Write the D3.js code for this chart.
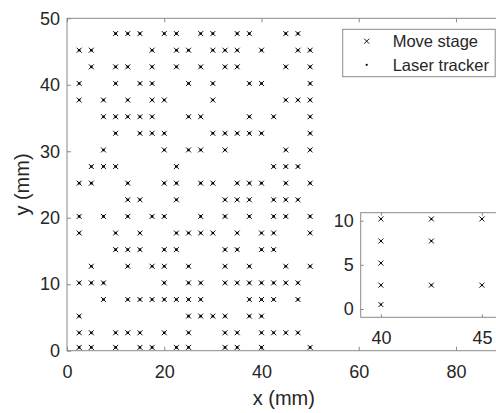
<!DOCTYPE html>
<html><head><meta charset="utf-8">
<script src="https://cdn.jsdelivr.net/npm/d3@7"></script>
<style>
body{margin:0;background:#fff}
svg{display:block}
text{font-family:"Liberation Sans",Arial,Helvetica,sans-serif;fill:#262626}
</style>
</head><body>
<svg id="c" width="496" height="413"></svg>
<script>
// ---- data (mm) ----
// y level of each measured row
const rowY = [47.7, 45.2, 42.7, 40.2, 37.7, 35.2, 32.7, 30.2, 27.7, 25.2,
              22.7, 20.2, 17.7, 15.2, 12.7, 10.2, 7.7, 5.2, 2.7, 0.5];
// x positions present in each row (same order as rowY)
const rowX = [
  [10, 12.5, 15, 20, 22.5, 27.5, 30, 35, 37.5, 45, 47.5],
  [2.5, 5, 17.5, 22.5, 25, 30, 32.5, 35, 40, 47.5, 50],
  [5, 10, 12.5, 17.5, 22.5, 27.5, 32.5, 35, 45, 50],
  [2.5, 10, 15, 17.5, 25, 30, 37.5, 40, 50],
  [2.5, 7.5, 12.5, 17.5, 20, 30, 45, 47.5, 50],
  [7.5, 10, 12.5, 15, 17.5, 25, 27.5, 37.5, 42.5, 50],
  [10, 15, 17.5, 20, 30, 32.5, 35, 37.5, 40, 50],
  [7.5, 20, 25, 27.5, 32.5, 45, 50],
  [5, 7.5, 10, 22.5, 42.5, 45, 47.5],
  [2.5, 5, 12.5, 20, 22.5, 27.5, 30, 35, 37.5, 40, 45, 50],
  [12.5, 15, 22.5, 32.5, 35, 37.5, 42.5, 45, 47.5],
  [2.5, 7.5, 12.5, 17.5, 20, 27.5, 32.5, 37.5, 42.5, 45, 50],
  [2.5, 10, 15, 22.5, 25, 27.5, 30, 35, 40, 42.5, 50],
  [10, 12.5, 15, 20, 22.5, 32.5, 35, 40, 42.5],
  [5, 12.5, 17.5, 20, 25, 32.5, 37.5, 45, 50],
  [2.5, 5, 7.5, 20, 25, 27.5, 32.5, 35, 37.5, 40, 42.5, 45, 47.5],
  [7.5, 12.5, 15, 17.5, 20, 22.5, 25, 27.5, 37.5, 40, 42.5, 47.5],
  [2.5, 25, 27.5, 30, 32.5, 37.5, 40],
  [2.5, 5, 10, 12.5, 15, 20, 25, 32.5, 35, 40, 42.5, 45, 47.5],
  [2.5, 5, 10, 15, 17.5, 22.5, 25, 32.5, 35, 40, 50]
];
const xTicks = [0, 20, 40, 60, 80];
const yTicks = [0, 10, 20, 30, 40, 50];
const insetXTicks = [40, 45];
const insetYTicks = [0, 5, 10];
const seriesNames = ["Move stage", "Laser tracker"];

const points = rowY.flatMap((y, i) => rowX[i].map(x => ({x, y})));

// ---- drawing ----
const svg = d3.select("#c");
const AX = "#8a8a8a";
const FS = 18;

const x = d3.scaleLinear().domain([0, 90]).range([67, 504.6]);
const y = d3.scaleLinear().domain([0, 50]).range([350.7, 18.3]);

function cross(g, sel, sx, sy) {
  const s = 2.5;
  sel.append("path")
    .attr("d", d => `M${sx(d.x)-s},${sy(d.y)-s}L${sx(d.x)+s},${sy(d.y)+s}M${sx(d.x)-s},${sy(d.y)+s}L${sx(d.x)+s},${sy(d.y)-s}`)
    .attr("stroke", "#111").attr("stroke-width", 1.0).attr("fill", "none");
}

function styleAxis(g, fs) {
  g.select(".domain").remove();
  g.selectAll(".tick line").attr("stroke", AX);
  g.selectAll(".tick text").attr("font-size", fs).attr("fill", "#262626")
    .attr("font-family", '"Liberation Sans",Arial,sans-serif');
}

// main frame
svg.append("rect").attr("x", x(0)).attr("y", y(50))
  .attr("width", x(90) - x(0)).attr("height", y(0) - y(50))
  .attr("fill", "#fff").attr("stroke", AX).attr("stroke-width", 1);

svg.append("g").attr("transform", `translate(0,${y(0)})`)
  .call(d3.axisBottom(x).tickValues(xTicks).tickSize(-4).tickPadding(15).tickFormat(d3.format("d")))
  .call(g => styleAxis(g, FS));
svg.append("g").attr("transform", `translate(0,${y(50)})`)
  .call(d3.axisTop(x).tickValues(xTicks).tickSize(-4).tickFormat(""))
  .call(g => styleAxis(g, FS));
svg.append("g").attr("transform", `translate(${x(0)},0)`)
  .call(d3.axisLeft(y).tickValues(yTicks).tickSize(-4).tickPadding(7).tickFormat(d3.format("d")))
  .call(g => styleAxis(g, FS));

// axis labels
svg.append("text").attr("x", (x(0) + x(90)) / 2 - 2).attr("y", 405)
  .attr("text-anchor", "middle").attr("font-size", 20).text("x (mm)");
svg.append("text").attr("transform", `translate(29,${(y(0) + y(50)) / 2}) rotate(-90)`)
  .attr("text-anchor", "middle").attr("font-size", 20).text("y (mm)");

// main points
const mp = svg.append("g");
const mg = mp.selectAll("g").data(points).join("g");
cross(mp, mg, x, y);
mg.append("circle").attr("cx", d => x(d.x)).attr("cy", d => y(d.y)).attr("r", 1.3).attr("fill", "#000");

// ---- inset ----
const xi = d3.scaleLinear().domain([39, 46]).range([360.7, 502.1]);
const yi = d3.scaleLinear().domain([0, 10]).range([309, 220.7]);
const iTop = 212.7, iBot = 317.3;
svg.append("defs").append("clipPath").attr("id", "ic")
  .append("rect").attr("x", xi(39)).attr("y", iTop).attr("width", xi(46) - xi(39)).attr("height", iBot - iTop);
svg.append("rect").attr("x", xi(39)).attr("y", iTop)
  .attr("width", xi(46) - xi(39)).attr("height", iBot - iTop)
  .attr("fill", "#fff").attr("stroke", AX).attr("stroke-width", 1);
svg.append("g").attr("transform", `translate(0,${iBot})`)
  .call(d3.axisBottom(xi).tickValues(insetXTicks).tickSize(-3).tickPadding(14).tickFormat(d3.format("d")))
  .call(g => styleAxis(g, FS));
svg.append("g").attr("transform", `translate(0,${iTop})`)
  .call(d3.axisTop(xi).tickValues(insetXTicks).tickSize(-3).tickFormat(""))
  .call(g => styleAxis(g, FS));
svg.append("g").attr("transform", `translate(${xi(39)},0)`)
  .call(d3.axisLeft(yi).tickValues(insetYTicks).tickSize(-3).tickPadding(7).tickFormat(d3.format("d")))
  .call(g => styleAxis(g, FS));
const ipts = points.filter(d => d.x >= 39 && d.x <= 46 && d.y <= 11);
const ip = svg.append("g").attr("clip-path", "url(#ic)");
const ig = ip.selectAll("g").data(ipts).join("g");
cross(ip, ig, xi, yi);
ig.append("circle").attr("cx", d => xi(d.x)).attr("cy", d => yi(d.y)).attr("r", 1.0).attr("fill", "#000");

// ---- legend ----
const lg = svg.append("g");
lg.append("rect").attr("x", 342.7).attr("y", 29.3).attr("width", 152.5).attr("height", 47.4)
  .attr("fill", "#fff").attr("stroke", AX).attr("stroke-width", 1);
const rowsL = [41.2, 64.8];
seriesNames.forEach((n, i) => {
  lg.append("text").attr("x", 392.7).attr("y", rowsL[i] + 5.8).attr("font-size", 16.5).text(n);
});
cross(lg, lg.append("g").datum({x: 366.7, y: rowsL[0]}), d => d, d => d);
lg.append("circle").attr("cx", 366.7).attr("cy", rowsL[1]).attr("r", 1.1).attr("fill", "#000");
</script>
</body></html>
